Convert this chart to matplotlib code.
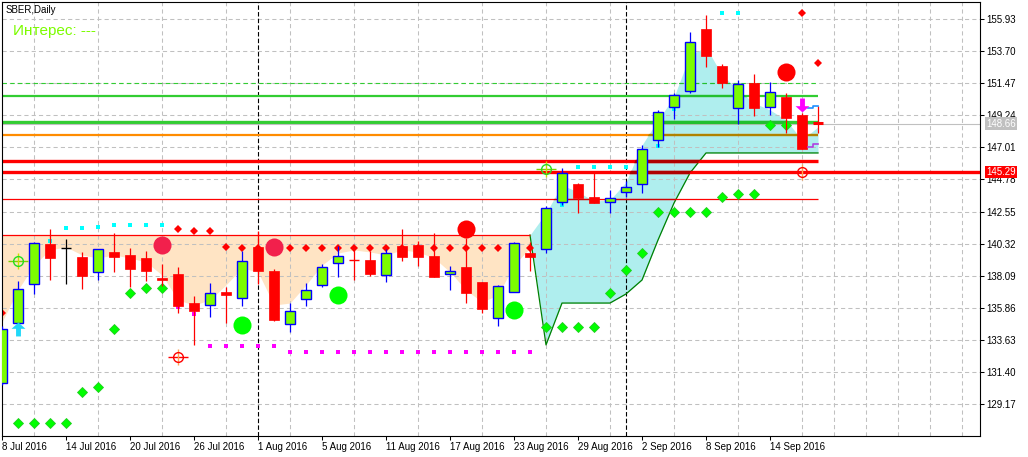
import matplotlib
matplotlib.use('Agg')
import numpy as np
import matplotlib.pyplot as plt
from matplotlib.path import Path
from matplotlib.transforms import blended_transform_factory

plt.rcParams['font.family'] = ['Liberation Sans', 'DejaVu Sans']

# bars are counted from 0 (8 Jul 2016) to 50 (16 Sep 2016)
date_bars = [0, 4, 8, 12, 16, 20, 24, 28, 32, 36, 40, 44, 48]
date_labels = ['8 Jul 2016', '14 Jul 2016', '20 Jul 2016', '26 Jul 2016',
               '1 Aug 2016', '5 Aug 2016', '11 Aug 2016', '17 Aug 2016',
               '23 Aug 2016', '29 Aug 2016', '2 Sep 2016', '8 Sep 2016',
               '14 Sep 2016']
month_bars = [16, 39]

opens = [130.65, 134.82, 137.53, 140.30, 140.01, 139.40, 138.38, 139.75, 139.54, 139.35,
         137.90, 138.22, 136.19, 136.05, 136.95, 136.51, 140.05, 138.43, 134.75, 136.46,
         137.41, 138.96, 139.17, 139.19, 138.13, 140.17, 140.24, 139.47, 138.22, 138.71,
         137.67, 135.15, 136.95, 139.68, 139.94, 143.20, 144.47, 143.55, 143.20, 143.94,
         144.45, 147.51, 149.80, 150.91, 155.24, 152.67, 149.73, 151.49, 149.80, 150.51,
         149.26]
highs = [134.60, 137.74, 140.44, 141.35, 140.65, 139.77, 139.95, 141.07, 140.03, 139.82,
         138.87, 138.66, 136.71, 137.58, 137.30, 139.84, 141.21, 138.57, 136.19, 137.60,
         138.92, 140.12, 140.12, 139.84, 139.94, 141.35, 140.49, 141.07, 138.78, 140.72,
         137.67, 137.46, 140.42, 140.44, 142.90, 145.56, 144.50, 145.21, 144.06, 144.70,
         147.18, 149.61, 150.81, 155.03, 156.21, 152.80, 151.69, 152.11, 151.58, 150.77,
         149.40]
lows = [130.50, 134.70, 136.83, 137.80, 137.53, 137.18, 137.80, 138.38, 137.30, 137.74,
        137.40, 135.51, 133.29, 135.24, 134.80, 135.95, 137.53, 134.95, 134.21, 135.95,
        137.30, 137.99, 137.80, 138.08, 137.62, 139.08, 138.78, 137.97, 137.11, 136.19,
        135.49, 134.56, 136.95, 138.45, 139.66, 143.00, 142.48, 143.13, 142.48, 143.55,
        143.83, 147.06, 149.01, 150.81, 152.62, 151.14, 148.62, 149.22, 149.26, 148.03,
        146.92]
closes = [134.40, 137.18, 140.37, 139.33, 140.01, 138.08, 139.94, 139.40, 138.55, 138.45,
          137.76, 136.00, 135.67, 136.88, 136.78, 139.12, 138.45, 134.98, 135.67, 137.09,
          138.69, 139.45, 139.17, 138.24, 139.66, 139.42, 139.42, 138.03, 138.43, 136.92,
          135.77, 137.37, 140.35, 139.42, 142.78, 145.21, 143.52, 143.13, 143.48, 144.24,
          146.88, 149.45, 150.63, 154.31, 153.38, 151.51, 151.40, 149.77, 150.84, 149.08,
          146.92]
doji_colors = {4: 'black', 22: 'red'}

# extra bar drawn after the last one
next_bar = 51
next_open, next_high, next_low = 148.67, 149.88, 148.03

price_ticks = [155.93, 153.70, 151.47, 149.24, 147.01, 144.78, 142.55,
               140.32, 138.09, 135.86, 133.63, 131.40, 129.17]
last_price = 148.66
level_price = 145.29

# cloud
peach_top = 140.92
peach_low = [134.87, 137.10, 138.83, 139.88, 140.09, 139.53, 139.32, 139.53, 139.32, 139.04,
             138.14, 136.40, 136.05, 136.40, 137.45, 138.63, 138.35, 136.05, 136.19, 137.45,
             138.83, 139.67, 139.88, 139.74, 139.53, 139.88, 139.74, 139.32, 138.35, 137.10,
             136.26, 136.75, 138.83, 140.02]
cyan_bars = list(range(33, 52))
cyan_top = [140.92, 142.45, 144.39, 143.91, 143.28, 143.35, 144.60, 147.17, 148.91, 150.51,
            153.43, 153.98, 152.04, 151.00, 150.09, 149.61, 148.91, 147.52, 148.43]
cyan_low = [140.92, 133.28, 136.19, 136.19, 136.19, 136.19, 136.82, 137.79, 140.57, 143.14,
            145.23, 146.62, 146.62, 146.62, 146.62, 146.62, 146.62, 146.62, 146.62]

# horizontal levels that stop at bar 51
lvl_prices = [151.46, 150.58, 148.75, 147.89, 146.06, 143.40]
lvl_colors = ['#32CD32', '#32CD32', '#32CD32', '#FF8C00', '#FF0000', '#FF0000']
lvl_dark = ['#22BF2F', '#22BF2F', '#22BF2F', '#AF8300', '#AF0000', '#D00000']
lvl_widths = [0.8, 1.6, 2.4, 1.6, 2.4, 0.9]
lvl_dashed = [True, False, False, False, False, False]

# signals
cyan_dot_bars = [3, 4, 5, 6, 7, 8, 9, 10, 35, 36, 37, 38, 39, 41, 42, 45, 46]
cyan_dot_prices = [140.50, 141.39, 141.39, 141.46, 141.59, 141.59, 141.59, 141.59, 143.00,
                   145.62, 145.62, 145.62, 145.62, 147.10, 149.68, 156.35, 156.35]
red_dia_bars = [0, 11, 12, 13, 14, 15, 16, 17, 18, 19, 20, 21, 22, 23, 24, 25, 26, 27, 28,
                29, 30, 31, 32, 33, 50, 51]
red_dia_prices = [135.50, 141.34, 141.20, 141.20, 140.10, 139.99, 139.99, 139.99, 139.99,
                  139.99, 139.99, 139.99, 139.99, 139.99, 139.99, 139.99, 139.99, 139.99,
                  139.99, 139.99, 139.99, 139.99, 139.99, 139.99, 156.37, 152.87]
green_dia_bars = [1, 2, 3, 4, 5, 6, 7, 8, 9, 10, 34, 35, 36, 37, 38, 39, 40, 41, 42, 43,
                  44, 45, 46, 47, 48, 49]
green_dia_prices = [127.83, 127.83, 127.83, 127.83, 130.01, 130.36, 134.39, 136.89, 137.24,
                    137.24, 134.55, 134.55, 134.55, 134.55, 136.87, 138.49, 139.65, 142.50,
                    142.50, 142.50, 142.50, 143.56, 143.77, 143.77, 148.56, 148.56]
magenta_bars = [11, 12, 13, 14, 15, 16, 17, 18, 19, 20, 21, 22, 23, 24, 25, 26, 27, 28, 29,
                30, 31, 32, 33]
magenta_prices = [135.92, 135.43, 133.21, 133.21, 133.21, 133.21, 133.21, 132.81, 132.81,
                  132.81, 132.81, 132.81, 132.81, 132.81, 132.81, 132.81, 132.81, 132.81,
                  132.81, 132.81, 132.81, 132.81, 132.81]
pink_circle_bars = [10, 17]
pink_circle_prices = [140.22, 140.07]
red_circle_bars = [29, 49]
red_circle_prices = [141.34, 152.27]
green_circle_bars = [15, 21, 32]
green_circle_prices = [134.66, 136.73, 135.71]
green_cross_bars = [1, 34]
green_cross_prices = [139.09, 145.49]
red_cross_bars = [11, 50]
red_cross_prices = [132.42, 145.32]
up_arrow_bar, up_arrow_price = 1, 134.39
down_arrow_bar, down_arrow_price = 50, 149.95
blue_tail_x = [50.35, 50.7, 50.7, 51.0]
blue_tail_y = [149.75, 149.75, 149.88, 149.88]
purple_tail_x = [50.35, 50.7, 50.7, 51.0]
purple_tail_y = [147.06, 147.06, 147.24, 147.24]


fig = plt.figure(figsize=(10.28, 4.57), dpi=100)
ax = fig.add_axes([2 / 1028, 21 / 457, 978 / 1028, 434 / 457])
ax.set_xlim(0, 61.125)
ax.set_ylim(126.95, 157.11)

# clouds
ax.fill_between(np.arange(len(peach_low)), peach_low, peach_top, color='#FFE4C4', lw=0, zorder=1)
cloud = ax.fill_between(cyan_bars, cyan_low, cyan_top, color='#AFEEEE', lw=0, zorder=1)
clip = cloud.get_paths()[0]
ax.plot(cyan_bars, cyan_low, color='#008000', lw=0.9, zorder=2)
ax.hlines(peach_top, 0, 33, colors='red', lw=0.9, zorder=2)

# grid
ax.set_yticks(price_ticks)
ax.set_xticks(date_bars)
ax.set_xticks(np.arange(2, 62, 2), minor=True)
ax.grid(True, axis='y', which='major', color='#C0C0C0', lw=0.75, ls=(0, (4, 3)))
ax.grid(True, axis='x', which='minor', color='#C0C0C0', lw=0.75, ls=(0, (4, 3)))
for b in month_bars:
    ax.axvline(b, color='black', lw=0.8, ls=(0, (4, 2)), zorder=1.8)

# levels
for p, col, dk, w, dsh in zip(lvl_prices, lvl_colors, lvl_dark, lvl_widths, lvl_dashed):
    ls = (0, (4, 3)) if dsh else '-'
    ax.hlines(p, 0, 51, colors=col, lw=w, linestyles=ls, zorder=2)
    h = ax.hlines(p, 0, 51, colors=dk, lw=w, linestyles=ls, zorder=2.05)
    h.set_clip_path(clip, ax.transData)
ax.axhline(last_price, color='#C0C0C0', lw=0.8, zorder=2)
ax.axhline(level_price, color='red', lw=2.4, zorder=2)
h = ax.axhline(level_price, color='#AF0000', lw=2.4, zorder=2.05)
h.set_clip_path(clip, ax.transData)

# small signals
ax.plot(cyan_dot_bars, cyan_dot_prices, ls='none', marker='s', ms=2.3, color='#00FFFF', mew=0, zorder=2.5)
ax.plot(magenta_bars, magenta_prices, ls='none', marker='s', ms=2.3, color='#FF00FF', mew=0, zorder=2.5)
ax.plot(red_dia_bars, red_dia_prices, ls='none', marker='D', ms=4.2, color='red', mew=0, zorder=2.5)
ax.plot(green_dia_bars, green_dia_prices, ls='none', marker='D', ms=4.6, color='#00FF00',
        mec='#22CC22', mew=0.6, zorder=2.5)

# candles
o = np.array(opens)
hi = np.array(highs)
lo = np.array(lows)
c = np.array(closes)
x = np.arange(len(o))
up = c > o
dn = c < o
eq = c == o
ax.vlines(x[up], lo[up], hi[up], colors='blue', lw=0.9, zorder=3)
ax.vlines(x[dn], lo[dn], hi[dn], colors='red', lw=0.9, zorder=3)
ax.bar(x[up], c[up] - o[up], bottom=o[up], width=0.6, color='#7CFC00', edgecolor='blue', lw=1.0, zorder=3.1)
ax.bar(x[dn], o[dn] - c[dn], bottom=c[dn], width=0.62, color='red', edgecolor='red', lw=0.5, zorder=3.1)
for i in x[eq]:
    col = doji_colors.get(i, 'black')
    ax.vlines(i, lo[i], hi[i], colors=col, lw=0.9, zorder=3)
    ax.hlines(o[i], i - 0.32, i + 0.32, colors=col, lw=1.0, zorder=3.1)
ax.vlines(next_bar, next_low, next_high, colors='red', lw=0.9, zorder=3)
ax.hlines(next_open, next_bar - 0.32, next_bar + 0.32, colors='red', lw=2.2, zorder=3.1)
ax.plot(blue_tail_x, blue_tail_y, color='#1E90FF', lw=1.2, zorder=3.2)
ax.plot(purple_tail_x, purple_tail_y, color='#B040E0', lw=1.2, zorder=3.2)

# big signals
ax.plot(pink_circle_bars, pink_circle_prices, ls='none', marker='o', ms=13, color='#F2204C', mew=0, zorder=4)
ax.plot(red_circle_bars, red_circle_prices, ls='none', marker='o', ms=13, color='#FF0000', mew=0, zorder=4)
ax.plot(green_circle_bars, green_circle_prices, ls='none', marker='o', ms=13, color='#00FF00', mew=0, zorder=4)
ax.plot(green_cross_bars, green_cross_prices, ls='none', marker='_', ms=15, color='#7CD000', mew=1.0, zorder=4)
ax.plot(green_cross_bars, green_cross_prices, ls='none', marker='|', ms=12, color='#C8E000', mew=1.0, zorder=4)
ax.plot(green_cross_bars, green_cross_prices, ls='none', marker='o', ms=7, mfc='none', mec='#22DD22', mew=1.0, zorder=4.1)
ax.plot(red_cross_bars, red_cross_prices, ls='none', marker='_', ms=15, color='red', mew=1.0, zorder=4)
ax.plot(red_cross_bars, red_cross_prices, ls='none', marker='|', ms=12, color='#FFA050', mew=1.0, zorder=4)
ax.plot(red_cross_bars, red_cross_prices, ls='none', marker='o', ms=7, mfc='none', mec='red', mew=1.0, zorder=4.1)

arrow_up = Path([(0, 1), (1, 0.1), (0.35, 0.1), (0.35, -1), (-0.35, -1), (-0.35, 0.1), (-1, 0.1), (0, 1)],
                [Path.MOVETO] + [Path.LINETO] * 6 + [Path.CLOSEPOLY])
arrow_down = Path([(0, -1), (1, -0.1), (0.35, -0.1), (0.35, 1), (-0.35, 1), (-0.35, -0.1), (-1, -0.1), (0, -1)],
                  [Path.MOVETO] + [Path.LINETO] * 6 + [Path.CLOSEPOLY])
ax.plot(up_arrow_bar, up_arrow_price, marker=arrow_up, ms=10, color='#20D8F8', mew=0, zorder=4)
ax.plot(down_arrow_bar, down_arrow_price, marker=arrow_down, ms=10, color='#FF00FF', mew=0, zorder=4)

# axes
for s in ax.spines.values():
    s.set_color('black')
    s.set_linewidth(0.8)
ax.yaxis.tick_right()
ax.set_yticklabels(['%.2f' % t for t in price_ticks])
ax.set_xticklabels(date_labels, ha='left')
ax.tick_params(axis='both', which='major', labelsize=7, length=3, width=0.75, pad=1.5, colors='black')
ax.tick_params(axis='x', which='minor', length=0)

tr = blended_transform_factory(ax.transAxes, ax.transData)
ax.text(1.0061, last_price, '148.66', transform=tr, fontsize=7, color='white', va='center', ha='left',
        bbox=dict(boxstyle='square,pad=0.12', fc='#C0C0C0', ec='none'), clip_on=False, zorder=6)
ax.text(1.0061, level_price, '145.29', transform=tr, fontsize=7, color='white', va='center', ha='left',
        bbox=dict(boxstyle='square,pad=0.12', fc='red', ec='none'), clip_on=False, zorder=6)

fig.text(6 / 1028, 1 - 10 / 457, 'SBER,Daily', fontsize=7, color='black', va='center', ha='left')
fig.text(13 / 1028, 1 - 31.5 / 457, 'Интерес: ---', fontsize=11, color='#7CFC00', va='center', ha='left')

fig.savefig('out.png', dpi=100)
plt.close()
